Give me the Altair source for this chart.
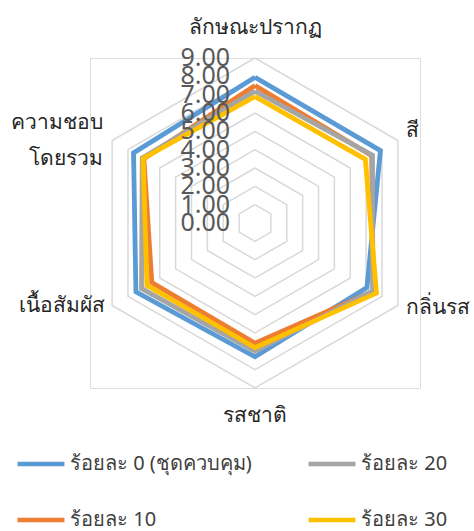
import altair as alt
import pandas as pd

categories = ["ลักษณะปรากฏ", "สี", "กลิ่นรส", "รสชาติ", "เนื้อสัมผัส", "ความชอบโดยรวม"]
series_names = ["ร้อยละ 0 (ชุดควบคุม)", "ร้อยละ 10", "ร้อยละ 20", "ร้อยละ 30"]
s0 = [7.95, 7.90, 7.05, 7.30, 7.50, 7.65]
s10 = [7.50, 7.35, 7.45, 6.55, 6.50, 7.00]
s20 = [7.20, 7.40, 7.40, 7.00, 7.15, 7.10]
s30 = [6.90, 6.95, 7.65, 6.80, 6.80, 7.05]
tick_levels = [0, 1, 2, 3, 4, 5, 6, 7, 8, 9]

series_colors = ["#5B9BD5", "#ED7D31", "#A5A5A5", "#FFC000"]

FONT = "Noto Sans"
n = len(categories)

rows = []
for name, vals in zip(series_names, [s0, s10, s20, s30]):
    for k in range(n + 1):
        rows.append({"series": name, "idx": k % n, "ord": k, "value": vals[k % n]})
lines_df = pd.DataFrame(rows)

grid_rows = []
for lv in tick_levels[1:]:
    for k in range(n + 1):
        grid_rows.append({"level": lv, "idx": k % n, "ord": k, "value": lv})
grid_df = pd.DataFrame(grid_rows)

ticks_df = pd.DataFrame({"value": tick_levels, "label": [f"{v:.2f}" for v in tick_levels]})
cat_df = pd.DataFrame({"idx": list(range(n)), "cat": categories, "value": [9] * n})

xs = alt.Scale(domain=[-9, 9], nice=False, zero=False)
ys = alt.Scale(domain=[-9, 9], nice=False, zero=False)

def polar(ch):
    return ch.transform_calculate(
        ang="PI/2 - datum.idx*PI/3"
    ).transform_calculate(
        px="datum.value*cos(datum.ang)", py="datum.value*sin(datum.ang)"
    )

X = alt.X("px:Q", scale=xs, axis=None)
Y = alt.Y("py:Q", scale=ys, axis=None)

grid = polar(alt.Chart(grid_df).mark_line(color="#D9D9D9", strokeWidth=1.5)).encode(
    x=X, y=Y, detail="level:N", order="ord:Q"
)

color = alt.Color(
    "series:N",
    scale=alt.Scale(domain=series_names, range=series_colors),
    legend=alt.Legend(
        orient="none", legendX=-75, legendY=380, columns=2, title=None,
        symbolType="stroke", symbolStrokeWidth=4.5, symbolSize=2200,
        labelFontSize=20, labelFont=FONT, labelColor="#404040", labelOffset=3,
        columnPadding=47, rowPadding=20, labelLimit=400,
    ),
)

line_layers = []
for name in series_names:
    line_layers.append(
        polar(alt.Chart(lines_df).transform_filter(alt.datum.series == name)
              .mark_line(strokeWidth=4.8, strokeJoin="miter"))
        .encode(x=X, y=Y, color=color, order="ord:Q")
    )

ticks = alt.Chart(ticks_df).mark_text(
    align="right", baseline="middle", dx=-25, fontSize=25, font=FONT,
    color="#595959"
).encode(
    x=alt.X("z:Q", scale=xs, axis=None), y=alt.Y("value:Q", scale=ys, axis=None), text="label:N"
).transform_calculate(z="0")

def cat_layer(indices, **kw):
    return polar(
        alt.Chart(cat_df).transform_filter(alt.FieldOneOfPredicate(field="idx", oneOf=indices))
        .mark_text(fontSize=21, font=FONT, color="#262626", lineBreak="\n", lineHeight=36, **kw)
    ).encode(x=X, y=Y, text="label:N").transform_calculate(
        label="datum.cat == 'ความชอบโดยรวม' ? 'ความชอบ\\nโดยรวม' : datum.cat"
    )

cat_top = cat_layer([0], align="center", baseline="middle", dy=-30)
cat_bottom = cat_layer([3], align="center", baseline="middle", dy=28)
cat_right_up = cat_layer([1], align="left", baseline="middle", dx=8, dy=-10)
cat_right_down = cat_layer([2], align="left", baseline="middle", dx=8, dy=2)
cat_left_down = cat_layer([4], align="right", baseline="middle", dx=-7, dy=0)
cat_left_up = cat_layer([5], align="right", baseline="middle", dx=-9, dy=-18)

chart = alt.layer(
    grid, *line_layers, ticks, cat_top, cat_bottom, cat_right_up, cat_right_down,
    cat_left_down, cat_left_up
).properties(
    width=330, height=330,
    autosize=alt.AutoSizeParams(type="none"),
    padding={"left": 90, "top": 58, "right": 54, "bottom": 143},
).configure_view(stroke=None).configure(background="white")

chart.save("out.html", embed_options={"renderer": "svg", "actions": False})
